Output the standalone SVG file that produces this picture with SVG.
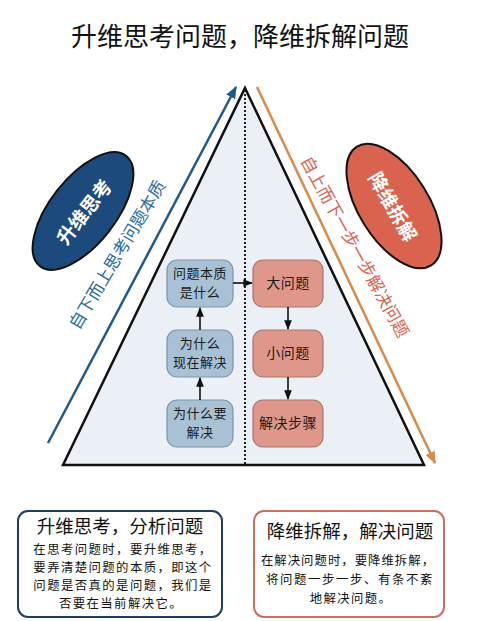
<svg xmlns="http://www.w3.org/2000/svg" width="477" height="621" viewBox="0 0 477 621">
<defs>
<style>
text{font-family:"Noto Sans CJK SC","Noto Sans",sans-serif;}
.box{rx:10;stroke-width:1.2;}
.bl{fill:#a9c1d5;stroke:#7f95a8;}
.rd{fill:#df978b;stroke:#a8766c;}
.bt{font-size:13px;fill:#1a1a1a;text-anchor:middle;letter-spacing:0.5px;}
.con{stroke:#111;stroke-width:1.6;fill:none;marker-end:url(#ah);}
.desc{font-size:12.4px;fill:#111;text-anchor:middle;letter-spacing:1.4px;}
</style>
<marker id="ah" viewBox="0 0 10 10" refX="9" refY="5" markerWidth="6" markerHeight="6" orient="auto"><path d="M0,1 L10,5 L0,9 z" fill="#111"/></marker>
<marker id="ahb" viewBox="0 0 10 10" refX="9" refY="5" markerWidth="5" markerHeight="5" orient="auto"><path d="M0,1 L10,5 L0,9 z" fill="#1f5a8a"/></marker>
<marker id="aho" viewBox="0 0 10 10" refX="9" refY="5" markerWidth="5" markerHeight="5" orient="auto"><path d="M0,1 L10,5 L0,9 z" fill="#d98a4a"/></marker>
</defs>
<rect width="477" height="621" fill="#ffffff"/>
<text x="240" y="46" font-size="26" text-anchor="middle" fill="#111">升维思考问题，降维拆解问题</text>

<g id="pyramid">
<polygon points="245,88 424,465 63,465" fill="#eaf0f5" stroke="#111" stroke-width="2.5" stroke-linejoin="miter"/>
<line x1="245" y1="90" x2="245" y2="465" stroke="#222" stroke-width="2" stroke-dasharray="2,2"/>
</g>

<g id="side-arrows">
<line x1="48" y1="443" x2="236" y2="87" stroke="#1f5a8a" stroke-width="2.5" marker-end="url(#ahb)"/>
<line x1="257" y1="87" x2="435" y2="463" stroke="#d98a4a" stroke-width="2.5" marker-end="url(#aho)"/>
<text transform="translate(116,254) rotate(-59)" font-size="17" fill="#2a6aa0" text-anchor="middle" dominant-baseline="central">自下而上思考问题本质</text>
<text transform="translate(356,246) rotate(61)" font-size="17" fill="#d9634f" text-anchor="middle" dominant-baseline="central">自上而下一步一步解决问题</text>
</g>

<g id="ellipse-up">
<ellipse cx="83" cy="211" rx="70" ry="33" transform="rotate(-52 83 211)" fill="#1c4a7c" stroke="#111" stroke-width="2"/>
<text transform="translate(83,211) rotate(-52)" font-size="19" font-weight="bold" fill="#fff" text-anchor="middle" dominant-baseline="central">升维思考</text>
</g>
<g id="ellipse-down">
<ellipse cx="394" cy="206" rx="70" ry="35" transform="rotate(58 394 206)" fill="#d9634f" stroke="#111" stroke-width="2"/>
<text transform="translate(394,206) rotate(60)" font-size="19" font-weight="bold" fill="#fff" text-anchor="middle" dominant-baseline="central">降维拆解</text>
</g>

<g id="n-essence"><rect class="box bl" x="167" y="260" width="66" height="47"/><text class="bt" x="200" y="278">问题本质</text><text class="bt" x="200" y="297">是什么</text></g>
<g id="n-now"><rect class="box bl" x="167" y="330" width="66" height="47"/><text class="bt" x="200" y="348">为什么</text><text class="bt" x="200" y="367">现在解决</text></g>
<g id="n-why"><rect class="box bl" x="167" y="400" width="66" height="47"/><text class="bt" x="200" y="418">为什么要</text><text class="bt" x="200" y="437">解决</text></g>
<g id="n-big"><rect class="box rd" x="253" y="260" width="70" height="47"/><text class="bt" x="288" y="288" style="font-size:14px">大问题</text></g>
<g id="n-small"><rect class="box rd" x="253" y="330" width="70" height="47"/><text class="bt" x="288" y="358" style="font-size:14px">小问题</text></g>
<g id="n-steps"><rect class="box rd" x="253" y="400" width="70" height="47"/><text class="bt" x="288" y="428" style="font-size:14px">解决步骤</text></g>

<g id="connectors">
<line class="con" x1="200" y1="400" x2="200" y2="378"/>
<line class="con" x1="200" y1="330" x2="200" y2="308"/>
<line class="con" x1="233" y1="283" x2="252" y2="283"/>
<line class="con" x1="288" y1="307" x2="288" y2="329"/>
<line class="con" x1="288" y1="377" x2="288" y2="399"/>
</g>

<g id="note-left">
<rect x="18" y="511" width="204" height="106" rx="10" fill="#fff" stroke="#1c3f66" stroke-width="2"/>
<text x="120" y="533" font-size="18.5" text-anchor="middle" fill="#111">升维思考，分析问题</text>
<text class="desc" x="123" y="554">在思考问题时，要升维思考，</text>
<text class="desc" x="123" y="572">要弄清楚问题的本质，即这个</text>
<text class="desc" x="123" y="590">问题是否真的是问题，我们是</text>
<text class="desc" x="121" y="608">否要在当前解决它。</text>
</g>
<g id="note-right">
<rect x="254" y="511" width="190" height="106" rx="10" fill="#fff" stroke="#c87060" stroke-width="2"/>
<text x="350" y="538" font-size="18.5" text-anchor="middle" fill="#111">降维拆解，解决问题</text>
<text class="desc" x="348" y="565" style="letter-spacing:1px">在解决问题时，要降维拆解，</text>
<text class="desc" x="350" y="584" style="letter-spacing:1.6px">将问题一步一步、有条不紊</text>
<text class="desc" x="351" y="603">地解决问题。</text>
</g>
</svg>
